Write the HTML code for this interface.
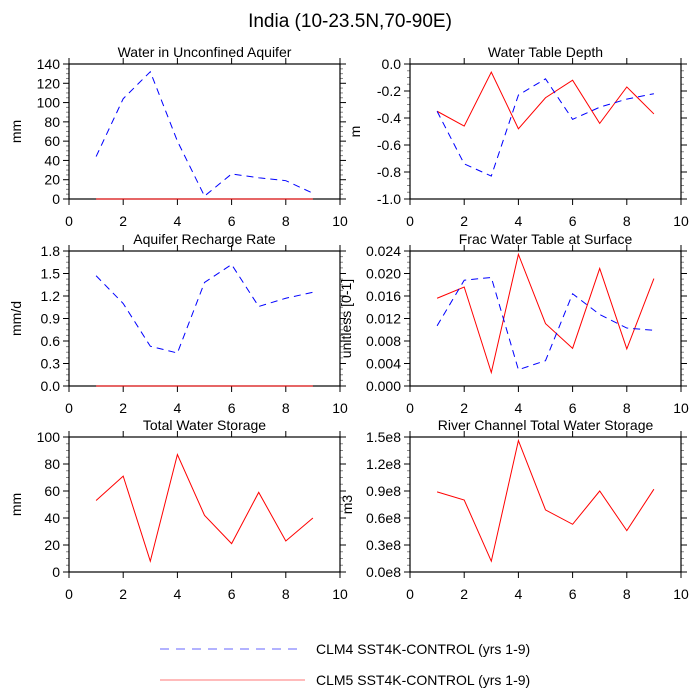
<!DOCTYPE html>
<html><head><meta charset="utf-8"><style>
html,body{margin:0;padding:0;background:#fff;}
svg{display:block;font-family:"Liberation Sans",sans-serif;}
</style></head><body>
<svg id="chart" width="700" height="700" viewBox="0 0 700 700">
<text x="350" y="27" text-anchor="middle" font-size="19">India (10-23.5N,70-90E)</text>
<g id="panels"></g>
<g>
<line x1="160" y1="649" x2="298" y2="649" stroke="#6666ff" stroke-width="1" stroke-dasharray="9,7"/>
<text x="316" y="654" font-size="14">CLM4 SST4K-CONTROL (yrs 1-9)</text>
<line x1="160" y1="680" x2="305" y2="680" stroke="#ff7777" stroke-width="1"/>
<text x="316" y="685" font-size="14">CLM5 SST4K-CONTROL (yrs 1-9)</text>
</g>
</svg>
<script>
const years = [1,2,3,4,5,6,7,8,9];
const aquiferClm4 = [44,104,132,60,3,26,22,19,6];
const aquiferClm5 = [0,0,0,0,0,0,0,0,0];
const wtdClm4 = [-0.35,-0.74,-0.83,-0.23,-0.11,-0.41,-0.32,-0.26,-0.22];
const wtdClm5 = [-0.35,-0.46,-0.06,-0.48,-0.25,-0.12,-0.44,-0.17,-0.37];
const rechargeClm4 = [1.47,1.10,0.53,0.44,1.38,1.62,1.06,1.17,1.25];
const rechargeClm5 = [0,0,0,0,0,0,0,0,0];
const fracClm4 = [0.0107,0.0188,0.0193,0.0029,0.0045,0.0164,0.0127,0.0103,0.0099];
const fracClm5 = [0.0156,0.0176,0.0024,0.0234,0.0111,0.0067,0.0209,0.0066,0.0191];
const twsClm5 = [53,71,8,87,42,21,59,23,40];
const riverClm5 = [0.89,0.80,0.12,1.46,0.69,0.53,0.90,0.46,0.92];
const xTicks = [0,2,4,6,8,10];
const ticksAquifer = ["0","20","40","60","80","100","120","140"];
const ticksWtd = ["-1.0","-0.8","-0.6","-0.4","-0.2","0.0"];
const ticksRecharge = ["0.0","0.3","0.6","0.9","1.2","1.5","1.8"];
const ticksFrac = ["0.000","0.004","0.008","0.012","0.016","0.020","0.024"];
const ticksTws = ["0","20","40","60","80","100"];
const ticksRiver = ["0.0e8","0.3e8","0.6e8","0.9e8","1.2e8","1.5e8"];

const panels = [
 {name:'aquifer',title:'Water in Unconfined Aquifer',ylab:'mm',ylx:16,x0:69,y0:64,min:0,max:140,ticks:ticksAquifer,c4:aquiferClm4,c5:aquiferClm5},
 {name:'water-table-depth',title:'Water Table Depth',ylab:'m',ylx:355,x0:410,y0:64,min:-1,max:0,ticks:ticksWtd,c4:wtdClm4,c5:wtdClm5},
 {name:'recharge',title:'Aquifer Recharge Rate',ylab:'mm/d',ylx:16,x0:69,y0:251,min:0,max:1.8,ticks:ticksRecharge,c4:rechargeClm4,c5:rechargeClm5},
 {name:'frac-wt',title:'Frac Water Table at Surface',ylab:'unitless [0-1]',ylx:346,x0:410,y0:251,min:0,max:0.024,ticks:ticksFrac,c4:fracClm4,c5:fracClm5},
 {name:'tws',title:'Total Water Storage',ylab:'mm',ylx:16,x0:69,y0:437,min:0,max:100,ticks:ticksTws,c4:null,c5:twsClm5},
 {name:'river',title:'River Channel Total Water Storage',ylab:'m3',ylx:347,x0:410,y0:437,min:0,max:1.5,ticks:ticksRiver,c4:null,c5:riverClm5}
];
const NS='http://www.w3.org/2000/svg';
const root=document.getElementById('panels');
function mk(tag,attrs,parent){const e=document.createElementNS(NS,tag);for(const k in attrs)e.setAttribute(k,attrs[k]);parent.appendChild(e);return e;}
const W=271,H=135;
panels.forEach(p=>{
 const g=mk('g',{},root);
 
 
 const xs=v=>p.x0+v/10*W;
 const ys=v=>p.y0+H-(v-p.min)/(p.max-p.min)*H;
 const t=mk('text',{x:p.x0+W/2,y:p.y0-7,'text-anchor':'middle','font-size':14},g);
 t.textContent=p.title;
 
 
 const yl=mk('text',{x:p.ylx,y:p.y0+H/2,'text-anchor':'middle','font-size':14,transform:`rotate(-90 ${p.ylx} ${p.y0+H/2})`,'dominant-baseline':'central'},g);
 yl.textContent=p.ylab;
 
 
 const n=p.ticks.length-1;
 for(let i=0;i<n;i++){for(let j=1;j<4;j++){const y=p.y0+H-(i+j/4)/n*H;
   mk('line',{x1:p.x0,y1:y,x2:p.x0-3,y2:y,stroke:'#888','stroke-width':1},g);
   mk('line',{x1:p.x0+W,y1:y,x2:p.x0+W+3,y2:y,stroke:'#888','stroke-width':1},g);}}
 p.ticks.forEach((lab,i)=>{const y=p.y0+H-i/n*H;
   mk('line',{x1:p.x0-6,y1:y,x2:p.x0,y2:y,stroke:'#000'},g);
   mk('line',{x1:p.x0+W,y1:y,x2:p.x0+W+6,y2:y,stroke:'#000'},g);
   const tl=mk('text',{x:p.x0-9,y:y+5,'text-anchor':'end','font-size':14},g);tl.textContent=lab;
   
   });
 xTicks.forEach(v=>{const x=xs(v);
   mk('line',{x1:x,y1:p.y0+H,x2:x,y2:p.y0+H+6,stroke:'#000'},g);
   mk('line',{x1:x,y1:p.y0,x2:x,y2:p.y0-6,stroke:'#000'},g);
   const tl=mk('text',{x:x,y:p.y0+H+27,'text-anchor':'middle','font-size':14},g);tl.textContent=v;
   
   });
 const fr=mk('rect',{x:p.x0,y:p.y0,width:W,height:H,fill:'none',stroke:'#000','stroke-width':1.2},g);
 
 
 if(p.c5){const l=mk('polyline',{points:years.map((x,i)=>xs(x)+','+ys(p.c5[i])).join(' '),fill:'none',stroke:'#ff0000','stroke-width':1},g);
   
   }
 if(p.c4){const l=mk('polyline',{points:years.map((x,i)=>xs(x)+','+ys(p.c4[i])).join(' '),fill:'none',stroke:'#0000ff','stroke-width':1,'stroke-dasharray':'7,5'},g);
   
   }
});
</script>
</body></html>
